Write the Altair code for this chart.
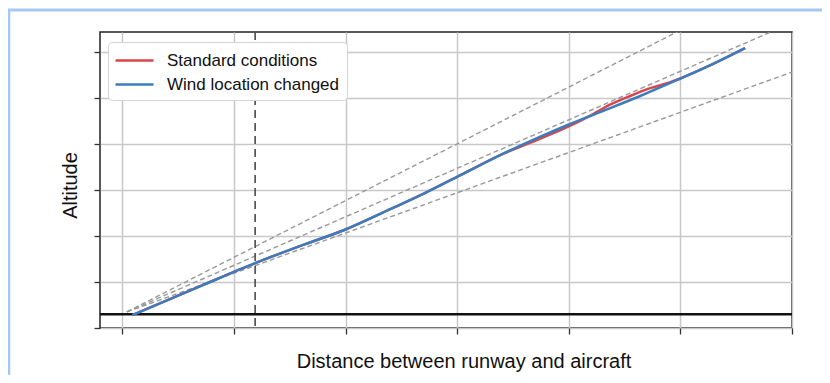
import altair as alt
import pandas as pd

# ---- data ----
x_ticks = [0, 1, 2, 3, 4, 5, 6]
y_ticks = [0, 1, 2, 3, 4, 5, 6]

series_names = ["Standard conditions", "Wind location changed"]
series_colors = ["#d8464b", "#3a7dbf"]

wind_x = [0.09, 0.70, 1.19, 1.59, 2.00, 2.40, 2.71, 3.03, 3.39, 3.74, 3.99, 4.28, 4.64, 5.01, 5.27, 5.58]
wind_y = [0.28, 0.91, 1.41, 1.78, 2.14, 2.58, 2.93, 3.32, 3.76, 4.15, 4.41, 4.69, 5.04, 5.43, 5.71, 6.08]

std_x = [0.09, 0.70, 1.19, 1.59, 2.00, 2.40, 2.71, 3.03, 3.39, 3.74, 3.99, 4.19, 4.37, 4.55, 4.73, 4.91, 5.01, 5.27, 5.58]
std_y = [0.28, 0.91, 1.41, 1.78, 2.14, 2.58, 2.93, 3.32, 3.76, 4.11, 4.37, 4.61, 4.85, 5.04, 5.21, 5.34, 5.43, 5.71, 6.08]

# gray dashed reference lines (start point and end at right edge)
guide_start = (0.04, 0.35)
guide_end_x = 6.0
guide_end_y = [7.70, 6.63, 5.56]

marker_x = [1.19]     # vertical dashed line
ground_y = [0.30]     # runway level

# ---- tables ----
curves = pd.DataFrame(
    [{"x": a, "y": b, "series": series_names[0], "o": i} for i, (a, b) in enumerate(zip(std_x, std_y))]
    + [{"x": a, "y": b, "series": series_names[1], "o": i} for i, (a, b) in enumerate(zip(wind_x, wind_y))]
)
guides = pd.DataFrame(
    [{"x": guide_start[0], "y": guide_start[1], "g": k} for k in range(len(guide_end_y))]
    + [{"x": guide_end_x, "y": e, "g": k} for k, e in enumerate(guide_end_y)]
)
vline = pd.DataFrame({"x": marker_x})
hline = pd.DataFrame({"y": ground_y})

xscale = alt.Scale(domain=[-0.2, 6.0], nice=False, zero=False)
yscale = alt.Scale(domain=[0, 6.43], nice=False, zero=False)
xaxis = alt.Axis(values=x_ticks, labels=False, title="Distance between runway and aircraft",
                 titleX=363.5, titleY=39, titleBaseline="alphabetic", titleAlign="center")
yaxis = alt.Axis(values=y_ticks, labels=False, title="Altitude",
                 titleX=-23.3, titleY=153, titleAngle=270, titleBaseline="alphabetic", titleAlign="center")
X = alt.X("x:Q", scale=xscale, axis=xaxis)
Y = alt.Y("y:Q", scale=yscale, axis=yaxis)

guide_layer = alt.Chart(guides).mark_line(
    color="#999999", strokeDash=[5, 3], strokeWidth=1.4, clip=True
).encode(x=X, y=Y, detail="g:N")

vline_layer = alt.Chart(vline).mark_rule(
    color="#555555", strokeDash=[8, 5], strokeWidth=1.7
).encode(x=X)

hline_layer = alt.Chart(hline).mark_rule(color="#111111", strokeWidth=2.5).encode(y=Y)

curve_layer = alt.Chart(curves).mark_line(strokeWidth=2.5, interpolate="monotone").encode(
    x=X, y=Y, order="o:Q",
    color=alt.Color(
        "series:N",
        scale=alt.Scale(domain=series_names, range=series_colors),
        legend=alt.Legend(
            title=None, orient="none", legendX=8, legendY=10,
            symbolType="M-1.1,0H2.7", symbolSize=400, symbolStrokeWidth=2.5,
            labelFont="Liberation Sans", labelFontSize=17, labelColor="#111",
            labelOffset=29, labelLimit=400, padding=7, rowPadding=4,
            strokeColor="#d4d4d4", fillColor="white", cornerRadius=4,
        ),
    ),
)

frame_top = alt.Chart(hline).mark_rule(color="#a3c8f4", strokeWidth=3, clip=False).encode(
    x=alt.value(-94), x2=alt.value(740), y=alt.value(-22)
)
frame_left = alt.Chart(hline).mark_rule(color="#a3c8f4", strokeWidth=2.5, clip=False).encode(
    x=alt.value(-91), y=alt.value(-23), y2=alt.value(360)
)

chart = alt.layer(
    guide_layer, vline_layer, hline_layer, curve_layer, frame_top, frame_left
).properties(
    width=692, height=296,
    autosize=alt.AutoSizeParams(type="none"),
    padding={"left": 92, "top": 24, "right": 30, "bottom": 47},
    background="white",
).configure_view(
    stroke="#222222", strokeWidth=1.5
).configure_axis(
    grid=True, gridColor="#c8c8c8", gridWidth=1.5, domain=False,
    ticks=True, tickColor="#333333", tickWidth=1.3, tickSize=6,
    titleFont="Liberation Sans", titleFontSize=20, titleFontWeight="normal", titleColor="#111111",
)

chart.save("out.html", embed_options={"renderer": "svg", "actions": False})
